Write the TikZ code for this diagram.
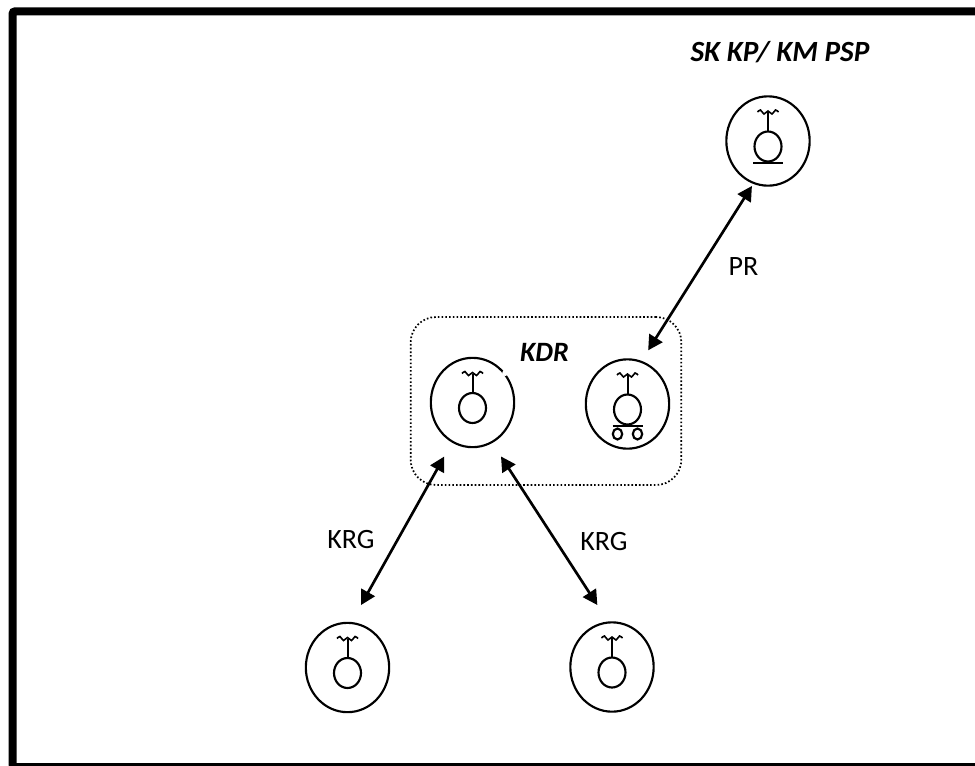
\documentclass[tikz,border=0pt]{standalone}
\usepackage{fontspec}
\setmainfont{Carlito}
\usetikzlibrary{arrows.meta}
\usetikzlibrary{positioning}
\usetikzlibrary{shapes.geometric}
\tikzset{
	station/.style={draw, ellipse, line width=1.6pt, minimum width=62.5pt, minimum height=67pt, inner sep=0pt},
	link/.style={<->, >={Triangle[length=11pt,width=11.5pt]}, line width=2pt},
	lbl/.style={font=\fontsize{21}{24}\selectfont},
	title/.style={font=\fontsize{22}{26}\selectfont\bfseries\itshape},
	smalltitle/.style={font=\fontsize{21}{24}\selectfont\bfseries\itshape},
	antenna/.pic={
		\draw[line width=1.5pt] (0,-29) -- (0,-9);
		\draw[line width=1.2pt] plot[smooth] coordinates {(-10.5,-29) (-7.5,-31) (-4,-27) (0,-30) (4,-27) (7.5,-31) (10.5,-29)};
		\draw[line width=1.6pt] (0,5.5) ellipse (13.5 and 15);
	},
	baseline/.pic={
		\draw[line width=1.7pt] (-15,21.7) -- (15,21.7);
	},
	wheels/.pic={
		\draw[line width=1.6pt] (-10,30) ellipse (4.7 and 5.5);
		\draw[line width=1.6pt] (10,30) ellipse (4.7 and 5.5);
	},
}
\begin{document}
\begin{tikzpicture}[x=.75pt, y=-.75pt]
	\useasboundingbox (0,0) rectangle (975,765);
	% outer frame
	\draw[line width=6pt, rounded corners=2pt] (12.5,11.3) rectangle (990,767);
	% group box
	\node[draw, dash pattern=on 1.2pt off 1.6pt, line width=1.3pt, rounded corners=19pt, minimum width=203pt, minimum height=126pt] (kdrbox) at (546,401) {};
	% stations
	\node[station] (psp) at (768,141) {};
	\node[station] (kdra) at (472.5,402.5) {};
	\node[station] (kdrb) at (627.5,404) {};
	\node[station] (krga) at (347.5,667.5) {};
	\node[station] (krgb) at (612,667) {};
	% gap in the circle
	\fill[white] (kdra.42) circle (3);
	% symbols
	\pic at (psp) {antenna};
	\pic at (psp) {baseline};
	\pic at (kdra) {antenna};
	\pic at (kdrb) {antenna};
	\pic at (kdrb) {baseline};
	\pic at (kdrb) {wheels};
	\pic at (krga) {antenna};
	\pic at (krgb) {antenna};
	% links
	\draw[link, shorten <=1.8pt, shorten >=9.3pt] (psp.251.8) -- (kdrb.72.2);
	\draw[link, shorten <=11.9pt, shorten >=14.5pt] (kdra.243) -- (krga.85);
	\draw[link, shorten <=12pt, shorten >=14.7pt] (kdra.296) -- (krgb.95);
	% labels
	\node[title] (psptext) at (780,52) {SK KP/ KM PSP};
	\node[smalltitle] (kdrtext) at (544.5,352) {KDR};
	\node[lbl] (prtext) at (743.5,267) {PR};
	\node[lbl] (krgatext) at (351,539) {KRG};
	\node[lbl] (krgbtext) at (604,541) {KRG};
\end{tikzpicture}
\end{document}
